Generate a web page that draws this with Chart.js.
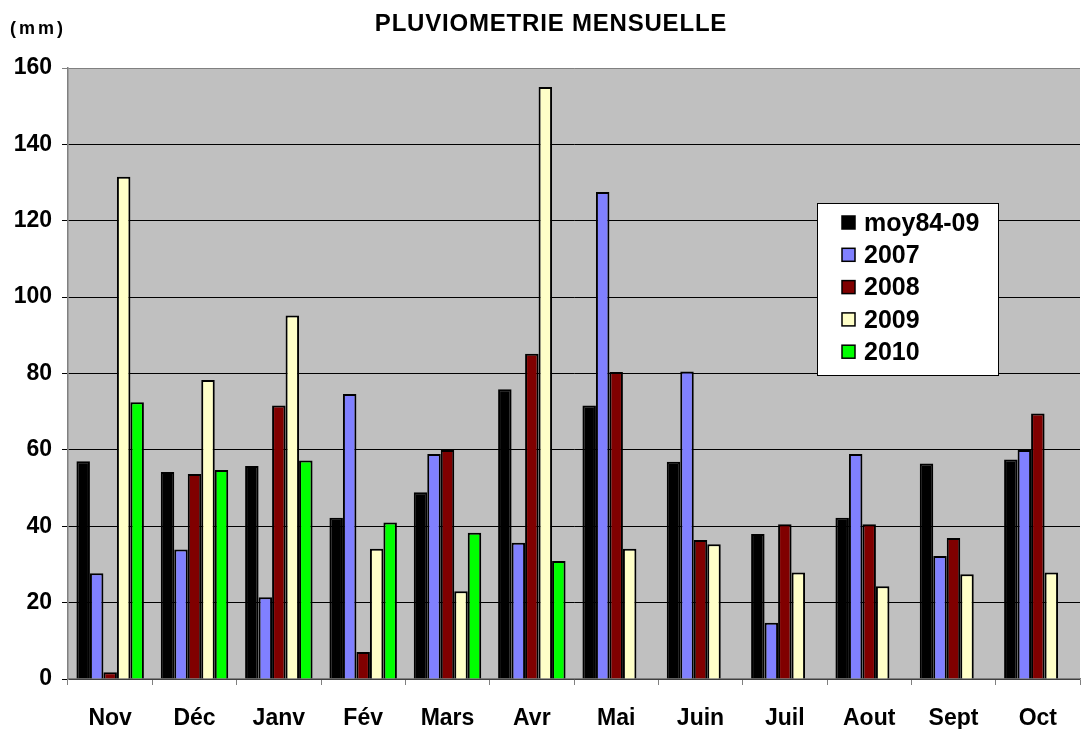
<!DOCTYPE html>
<html>
<head>
<meta charset="utf-8">
<script src="https://cdn.jsdelivr.net/npm/chart.js@4/dist/chart.umd.min.js"></script>
<style>
  body { margin: 0; background: #fff; }
  #pluvio { display: block; }
</style>
</head>
<body>
<canvas id="pluvio" width="1082" height="729"></canvas>
<script>
// mois (nov -> oct)
var mois = ['Nov', 'Déc', 'Janv', 'Fév', 'Mars', 'Avr', 'Mai', 'Juin', 'Juil', 'Aout', 'Sept', 'Oct']
var moy84_09 = [57, 54.2, 55.8, 42.2, 48.9, 75.9, 71.6, 56.9, 38, 42.2, 56.4, 57.5]
var an2007 = [27.7, 33.9, 21.4, 74.6, 58.9, 35.7, 127.5, 80.5, 14.7, 58.9, 32.2, 60]
var an2008 = [1.8, 53.7, 71.6, 7.1, 60, 85.2, 80.4, 36.4, 40.5, 40.5, 36.9, 69.5]
var an2009 = [131.5, 78.3, 95.2, 34.1, 23, 155, 34.1, 35.3, 27.9, 24.3, 27.4, 27.9]
var an2010 = [72.5, 54.7, 57.2, 41, 38.3, 30.9, null, null, null, null, null, null]
var yTicks = [0, 20, 40, 60, 80, 100, 120, 140, 160]

var police = "'Liberation Sans', Arial, sans-serif"

// fond gris de la zone de tracé
var fondGris = {
    id: 'fondGris',
    beforeDraw: function (chart) {
        var a = chart.chartArea
        var ctx = chart.ctx
        ctx.save()
        ctx.fillStyle = '#c0c0c0'
        ctx.fillRect(a.left, a.top, a.right - a.left, a.bottom - a.top)
        ctx.restore()
    }
}

// titre + unité + légende encadrée
var habillage = {
    id: 'habillage',
    afterDraw: function (chart) {
        var ctx = chart.ctx
        ctx.save()
        ctx.fillStyle = '#000'
        ctx.textBaseline = 'middle'
        ctx.font = 'bold 24px ' + police
        ctx.textAlign = 'center'
        ctx.letterSpacing = '0.8px'
        ctx.fillText('PLUVIOMETRIE MENSUELLE', 551, 24)
        ctx.font = 'bold 18px ' + police
        ctx.textAlign = 'left'
        ctx.letterSpacing = '3px'
        ctx.fillText('(mm)', 10, 29)
        ctx.letterSpacing = '0px'

        // légende
        var bx = 817, by = 203, bw = 181, bh = 172
        ctx.fillStyle = '#fff'
        ctx.fillRect(bx, by, bw, bh)
        ctx.strokeStyle = '#000'
        ctx.lineWidth = 1
        ctx.strokeRect(bx + 0.5, by + 0.5, bw, bh)
        ctx.font = 'bold 25px ' + police
        chart.data.datasets.forEach(function (ds, i) {
            var cy = 223 + i * 32.3
            ctx.fillStyle = ds.backgroundColor
            ctx.fillRect(842, cy - 7, 13, 13)
            ctx.strokeStyle = '#000'
            ctx.lineWidth = 1.5
            ctx.strokeRect(842, cy - 7, 13, 13)
            ctx.fillStyle = '#000'
            ctx.fillText(ds.label, 864, cy + 1)
        })
        ctx.restore()
    }
}

var serie = function (label, couleur, valeurs) {
    return {
        label: label,
        data: valeurs,
        backgroundColor: couleur,
        borderColor: '#000',
        borderWidth: 2,
        borderSkipped: 'bottom',
        categoryPercentage: 0.8,
        barPercentage: 1.0
    }
}

var myChart = new Chart(document.getElementById('pluvio'), {
    type: 'bar',
    data: {
        labels: mois,
        datasets: [
            serie('moy84-09', '#000000', moy84_09),
            serie('2007', '#8080ff', an2007),
            serie('2008', '#800000', an2008),
            serie('2009', '#ffffc8', an2009),
            serie('2010', '#00ff00', an2010)
        ]
    },
    options: {
        responsive: false,
        animation: false,
        devicePixelRatio: 1,
        layout: { padding: { top: 68, right: 2, left: 0, bottom: 0 } },
        plugins: {
            legend: { display: false },
            title: { display: false },
            tooltip: { enabled: false }
        },
        scales: {
            x: {
                grid: { display: true, drawOnChartArea: false, offset: true, tickLength: 6, color: '#808080', lineWidth: 1 },
                border: { color: '#808080', width: 1.5 },
                ticks: { color: '#000', font: { family: police, size: 23, weight: 'bold' }, padding: 20 },
                afterFit: function (s) { s.height = 50 }
            },
            y: {
                min: 0,
                max: 160,
                afterBuildTicks: function (s) { s.ticks = yTicks.map(function (v) { return { value: v } }) },
                grid: {
                    tickLength: 6,
                    lineWidth: 1,
                    color: function (c) { return c.tick && c.tick.value === 160 ? '#808080' : '#000' }
                },
                border: { color: '#808080', width: 1.5 },
                ticks: { color: '#000', font: { family: police, size: 23, weight: 'bold' }, padding: 10 },
                afterFit: function (s) { s.width = 68 }
            }
        }
    },
    plugins: [fondGris, habillage]
})
</script>
</body>
</html>
